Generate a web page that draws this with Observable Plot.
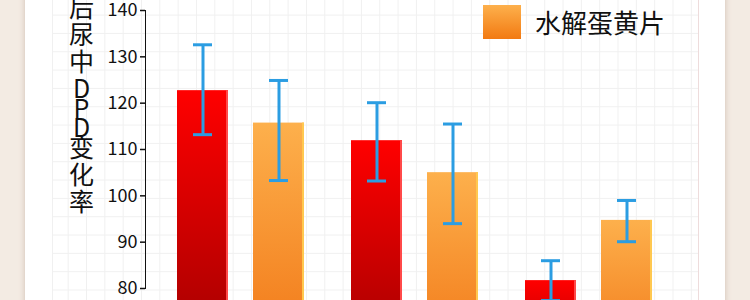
<!DOCTYPE html>
<html>
<head>
<meta charset="utf-8">
<script src="https://cdn.jsdelivr.net/npm/d3@7"></script>
<script src="https://cdn.jsdelivr.net/npm/@observablehq/plot@0.6"></script>
<style>
  html, body { margin: 0; padding: 0; }
  body {
    width: 750px; height: 300px; overflow: hidden; position: relative;
    background: #f3ebe3;
    font-family: "Noto Sans CJK SC", "Noto Sans", sans-serif;
  }
  #card {
    position: absolute; left: 25px; top: -60px; width: 700px; height: 420px;
    background: #ffffff;
    box-shadow: 0 0 6px rgba(150, 110, 90, 0.35);
  }
  #panel {
    position: absolute; left: 52px; top: -60px; width: 645px; height: 420px;
    border-left: 1px solid #f0f0f0;
    border-right: 1px solid #eedcdc;
    background-image:
      linear-gradient(to right, #f0f0f0 1px, transparent 1px),
      linear-gradient(to bottom, #f0f0f0 1px, transparent 1px);
    background-size: 18.33px 18.33px;
    background-position: 14.7px 1.3px;
  }
  #ylabel {
    position: absolute; left: 66.5px; top: -5.5px;
    writing-mode: vertical-rl; text-orientation: upright;
    font-size: 25px; line-height: 30px; color: #111;
    letter-spacing: 2px; white-space: nowrap;
  }
  #ylabel .latin { letter-spacing: -5.5px; }
  #chart { position: absolute; left: 0; top: 0; }
  #legend {
    position: absolute; left: 483px; top: 5px;
    display: flex; align-items: center; gap: 14px;
  }
  #legend .swatch {
    width: 38px; height: 34px;
    background: linear-gradient(to bottom, #fdb04c, #f27a12);
  }
  #legend .name { font-size: 26px; color: #111; line-height: 34px; }
</style>
</head>
<body>
<div id="card"></div>
<div id="panel"></div>
<div id="ylabel"></div>
<div id="chart"></div>
<div id="legend"><div class="swatch"></div><div class="name">水解蛋黄片</div></div>
<script>
// Three groups, each with a control bar (red) and a 水解蛋黄片 bar (orange)
const groups = ["组一", "组二", "组三"];
const seriesNames = ["对照组", "水解蛋黄片"];

// Mean DPD change rate with the upper and lower ends of each error bar
const controlMean = [122.7, 111.9, 81.7];
const controlHigh = [132.6, 120.1, 86.0];
const controlLow  = [113.2, 103.2, 77.4];

const yolkMean = [115.7, 105.0, 94.7];
const yolkHigh = [124.9, 115.5, 99.0];
const yolkLow  = [103.3, 94.0, 90.1];

const yTicks = [80, 90, 100, 110, 120, 130, 140];
const yBase = 60; // bars rise from the bottom of the value axis
const yTitle = "后尿中DPD变化率";

const rows = [];
groups.forEach((g, i) => {
  rows.push({group: g, series: seriesNames[0], mean: controlMean[i], hi: controlHigh[i], lo: controlLow[i]});
  rows.push({group: g, series: seriesNames[1], mean: yolkMean[i], hi: yolkHigh[i], lo: yolkLow[i]});
});

// vertical axis title: upright characters, Latin runs set tighter
const ylabel = document.getElementById("ylabel");
for (const part of yTitle.match(/[A-Za-z]+|[^A-Za-z]+/g)) {
  if (/[A-Za-z]/.test(part)) {
    const s = document.createElement("span");
    s.className = "latin";
    s.textContent = part;
    ylabel.appendChild(s);
  } else {
    ylabel.appendChild(document.createTextNode(part));
  }
}

const errColor = "#2b9de2";

const chart = Plot.plot({
  width: 750,
  height: 300,
  marginLeft: 144,
  marginRight: 86,
  marginTop: 10,
  marginBottom: 12,
  style: {
    background: "transparent",
    fontSize: "18px",
    fontFamily: "'Noto Sans CJK SC', sans-serif",
    color: "#111",
    overflow: "hidden"
  },
  facet: {data: rows, x: "group", marginTop: 0, marginBottom: 0, marginLeft: 0, marginRight: 0},
  fx: {domain: groups, paddingInner: 0.027, paddingOuter: 0, axis: null, label: null},
  x: {domain: seriesNames, paddingInner: 0.325, paddingOuter: 0.266, align: 0.768, axis: null, label: null},
  y: {domain: [80, 140], ticks: yTicks, tickSize: 5, tickPadding: 3, line: true, label: null},
  color: {domain: seriesNames, range: ["url(#barRed)", "url(#barOrange)"]},
  marks: [
    Plot.barY(rows, {x: "series", y1: yBase, y2: "mean", fill: "series"}),
    // light edge along the right side of each bar
    Plot.barY(rows, {filter: d => d.series === seriesNames[0], x: "series", y1: yBase, y2: "mean", fill: "#ff4a4a", insetLeft: 49}),
    Plot.barY(rows, {filter: d => d.series === seriesNames[1], x: "series", y1: yBase, y2: "mean", fill: "#ffc850", insetLeft: 49}),
    Plot.ruleX(rows, {x: "series", y1: "lo", y2: "hi", stroke: errColor, strokeWidth: 3}),
    Plot.tickY(rows, {x: "series", y: "hi", stroke: errColor, strokeWidth: 3, insetLeft: 16, insetRight: 16}),
    Plot.tickY(rows, {x: "series", y: "lo", stroke: errColor, strokeWidth: 3, insetLeft: 16, insetRight: 16})
  ]
});

// vertical gradients for the two bar fills
const svg = d3.select(chart.tagName.toLowerCase() === "svg" ? chart : chart.querySelector("svg"));
const defs = svg.insert("defs", ":first-child");
function addGradient(id, top, bottom) {
  const g = defs.append("linearGradient").attr("id", id)
    .attr("x1", 0).attr("y1", 0).attr("x2", 0).attr("y2", 1);
  g.append("stop").attr("offset", "0%").attr("stop-color", top);
  g.append("stop").attr("offset", "100%").attr("stop-color", bottom);
}
addGradient("barRed", "#ff0000", "#980000");
addGradient("barOrange", "#fdb04c", "#f07010");

// y axis: heavier axis line, dark ticks and labels
svg.selectAll("g[aria-label]").each(function () {
  const label = this.getAttribute("aria-label");
  if (!label.startsWith("y-axis")) return;
  const g = d3.select(this);
  if (label.includes("label")) { g.attr("fill", "#111"); return; }
  g.attr("stroke", "#000").attr("stroke-width", label.includes("tick") ? 1.5 : 2.5);
});
svg.selectAll('[aria-label="y-axis"] text').attr("fill", "#111");
svg.selectAll('[aria-label="y-axis"] .tick line').attr("stroke", "#000").attr("stroke-width", 1.5);
svg.selectAll('[aria-label="y-axis"] .domain').attr("stroke", "#000").attr("stroke-width", 2.5);

document.getElementById("chart").appendChild(chart);
</script>
</body>
</html>
